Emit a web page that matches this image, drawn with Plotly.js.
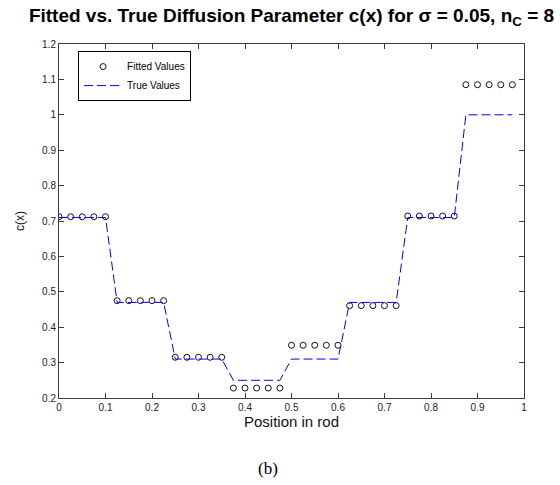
<!DOCTYPE html>
<html>
<head>
<meta charset="utf-8">
<script src="https://cdn.plot.ly/plotly-3.0.1.min.js"></script>
<style>html,body{margin:0;padding:0;background:#fff;}</style>
</head>
<body>
<div id="chart" style="width:560px;height:485px;"></div>
<script>
// Position in rod (sample locations)
const positions = [0, 0.025, 0.05, 0.075, 0.1, 0.125, 0.15, 0.175, 0.2, 0.225,
                   0.25, 0.275, 0.3, 0.325, 0.35, 0.375, 0.4, 0.425, 0.45, 0.475,
                   0.5, 0.525, 0.55, 0.575, 0.6, 0.625, 0.65, 0.675, 0.7, 0.725,
                   0.75, 0.775, 0.8, 0.825, 0.85, 0.875, 0.9, 0.925, 0.95, 0.975];
// Fitted diffusion parameter values
const fittedValues = [0.712, 0.712, 0.712, 0.712, 0.712,
                      0.475, 0.475, 0.475, 0.475, 0.475,
                      0.315, 0.315, 0.315, 0.315, 0.315,
                      0.228, 0.228, 0.228, 0.228, 0.228,
                      0.349, 0.349, 0.349, 0.349, 0.349,
                      0.461, 0.461, 0.461, 0.461, 0.461,
                      0.714, 0.714, 0.714, 0.714, 0.714,
                      1.085, 1.085, 1.085, 1.085, 1.085];
// True diffusion parameter values
const trueValues = [0.71, 0.71, 0.71, 0.71, 0.71,
                    0.47, 0.47, 0.47, 0.47, 0.47,
                    0.31, 0.31, 0.31, 0.31, 0.31,
                    0.25, 0.25, 0.25, 0.25, 0.25,
                    0.31, 0.31, 0.31, 0.31, 0.31,
                    0.47, 0.47, 0.47, 0.47, 0.47,
                    0.71, 0.71, 0.71, 0.71, 0.71,
                    1.0, 1.0, 1.0, 1.0, 1.0];
const seriesNames = ["Fitted Values", "True Values"];
const xTicks = [0, 0.1, 0.2, 0.3, 0.4, 0.5, 0.6, 0.7, 0.8, 0.9, 1];
const yTicks = [0.2, 0.3, 0.4, 0.5, 0.6, 0.7, 0.8, 0.9, 1, 1.1, 1.2];

const axisColor = "#3c3c3c";
const font = "Liberation Sans, Arial, sans-serif";

const traces = [
  {
    x: positions, y: fittedValues, name: seriesNames[0],
    type: "scatter", mode: "markers",
    marker: {symbol: "circle-open", size: 6, color: "#111111", line: {width: 1, color: "#111111"}}
  },
  {
    x: positions, y: trueValues, name: seriesNames[1],
    type: "scatter", mode: "lines",
    line: {color: "#0000ff", width: 1, dash: "9px,4px"}
  }
];

const layout = {
  width: 560, height: 485,
  margin: {l: 59, r: 36, t: 44, b: 87, pad: 0},
  paper_bgcolor: "#ffffff", plot_bgcolor: "#ffffff",
  font: {family: font, size: 10, color: "#222"},
  title: {
    text: "Fitted vs. True Diffusion Parameter c(x) for σ = 0.05, n<sub>C</sub> = 8",
    font: {family: font, size: 19, color: "#000", weight: "bold"},
    x: 0.5, xref: "paper", xanchor: "center",
    y: 0.969, yref: "container", yanchor: "middle"
  },
  xaxis: {
    range: [0, 1], tickvals: xTicks, ticktext: xTicks.map(String),
    ticks: "inside", ticklen: 5, tickcolor: axisColor, tickwidth: 1,
    showline: true, linecolor: axisColor, linewidth: 1, mirror: "ticks",
    showgrid: false, zeroline: false,
    tickfont: {family: font, size: 10, color: "#222"},
    title: {text: "Position in rod", font: {family: font, size: 15, color: "#111"}, standoff: 2}
  },
  yaxis: {
    range: [0.2, 1.2], tickvals: yTicks, ticktext: yTicks.map(String),
    ticks: "inside", ticklen: 5, tickcolor: axisColor, tickwidth: 1,
    showline: true, linecolor: axisColor, linewidth: 1, mirror: "ticks",
    showgrid: false, zeroline: false,
    tickfont: {family: font, size: 10, color: "#222"},
    title: {text: "c(x)", font: {family: font, size: 12, color: "#111"}, standoff: 14}
  },
  showlegend: true,
  legend: {
    x: 0.041, y: 0.98, xanchor: "left", yanchor: "top",
    bgcolor: "#ffffff", bordercolor: "#000000", borderwidth: 1,
    font: {family: font, size: 10, color: "#000"},
    itemwidth: 38, tracegroupgap: 0,
    entrywidth: 122, entrywidthmode: "pixels"
  },
  annotations: [
    {text: "(b)", xref: "paper", yref: "paper", x: 0.449, y: -0.2,
     xanchor: "center", yanchor: "middle", showarrow: false,
     font: {family: "Liberation Serif, DejaVu Serif, serif", size: 17, color: "#000"}}
  ]
};

Plotly.newPlot("chart", traces, layout, {displayModeBar: false, responsive: false});
</script>
</body>
</html>
